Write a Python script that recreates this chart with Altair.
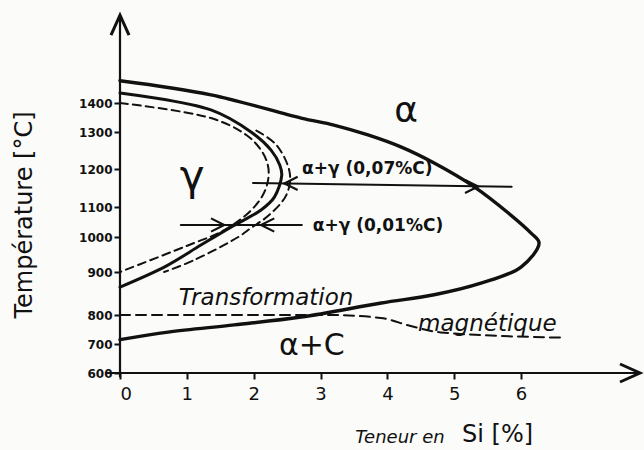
import altair as alt
import pandas as pd

# ---- data: Fe-Si phase diagram (low carbon) ----
# alpha / gamma boundary: from 0 % Si, round the nose near 6.3 % Si and back
outer_si = [0.0, 1.36, 2.71, 3.20, 3.71, 4.21, 4.70, 5.30, 5.81, 6.15, 6.27, 6.00, 5.40, 4.70, 3.91, 2.71, 1.71, 0.72, 0.0]
outer_t = [1471, 1426, 1348, 1324, 1292, 1259, 1216, 1153, 1080, 1013, 983, 914, 874, 847, 828, 793, 766, 741, 715]

# gamma loop (solid)
loop_si = [0.0, 1.36, 1.96, 2.26, 2.39, 2.42, 2.31, 2.11, 1.66, 1.21, 0.69, 0.0]
loop_t = [1432, 1376, 1300, 1251, 1211, 1184, 1126, 1090, 1033, 977, 917, 865]

# gamma loop, inner dashed boundary
inner_si = [0.0, 1.36, 1.89, 2.11, 2.21, 2.22, 2.14, 1.92, 1.51, 1.11, 0.0]
inner_t = [1400, 1348, 1292, 1251, 1212, 1176, 1132, 1080, 1017, 983, 900]

# gamma loop, outer dashed boundary
outer_d_si = [2.04, 2.34, 2.54, 2.49, 2.23, 1.96, 1.77, 1.11, 0.66]
outer_d_t = [1305, 1265, 1189, 1132, 1073, 1030, 1000, 934, 900]

# magnetic transformation (dashed)
mag_si = [0.0, 3.10, 3.90, 4.35, 4.80, 6.6]
mag_t = [800, 800, 790, 762, 740, 722]

# horizontal reading lines: alpha+gamma at 0.07 %C and 0.01 %C
c007_si = [1.99, 5.86]
c007_t = [1163, 1153]
c001_si = [0.91, 2.72]
c001_t = [1040, 1040]

# arrow heads on the reading lines (tip position, direction)
arrow_si = [5.36, 2.46, 1.56, 2.11]
arrow_t = [1154, 1162, 1040, 1040]
arrow_dir = ["right", "left", "right", "left"]

# axis ticks
x_ticks = [0, 1, 2, 3, 4, 5, 6]
y_ticks = [600, 700, 800, 900, 1000, 1100, 1200, 1300, 1400]

# hand-drawn temperature axis: tick spacing is uneven, so the scale is piecewise
y_domain = [600, 700, 800, 900, 1000, 1100, 1200, 1300, 1400, 1690]
y_range = [361, 332, 303, 260, 225, 195, 157, 120, 91, 0]

# region labels
lab_text = ["α", "γ", "α+C", "α+γ (0,07%C)", "α+γ (0,01%C)"]
lab_si = [4.28, 1.08, 2.87, 3.70, 3.86]
lab_t = [1372, 1178, 693, 1200, 1037]
lab_size = [36, 42, 30, 17, 17]
lab_weight = ["normal", "normal", "normal", "bold", "bold"]

INK = "#111111"
FONT = "DejaVu Sans"

xs = alt.Scale(domain=[0, 7.78], nice=False, zero=False)
ys = alt.Scale(domain=y_domain, range=y_range, nice=False, zero=False)


def curve(si, t):
    return pd.DataFrame({"si": si, "t": t, "i": range(len(si))})


def line_layer(si, t, width, dash=None, interp="catmull-rom"):
    kw = dict(color=INK, strokeWidth=width, interpolate=interp, strokeCap="round")
    if dash:
        kw["strokeDash"] = dash
    return alt.Chart(curve(si, t)).mark_line(**kw).encode(
        x=alt.X("si:Q", scale=xs),
        y=alt.Y("t:Q", scale=ys),
        order="i:Q",
    )


base_axes = alt.Chart(pd.DataFrame({"si": x_ticks, "t": [600] * len(x_ticks)})).mark_point(opacity=0).encode(
    x=alt.X("si:Q", scale=xs,
            axis=alt.Axis(values=x_ticks, format="d", title=None, grid=False, domain=False,
                          tickSize=6, tickWidth=2, tickColor=INK,
                          labelFontSize=18, labelFont=FONT, labelColor=INK, labelPadding=6)),
    y=alt.Y("t:Q", scale=ys,
            axis=alt.Axis(values=y_ticks, format="d", title=None, grid=False, domain=False,
                          tickSize=6, tickWidth=2, tickColor=INK,
                          labelFontSize=12, labelFont=FONT, labelFontWeight="bold",
                          labelColor=INK, labelPadding=2)),
)

# axis lines drawn as rules so they can overrun like arrows
x_axis_line = alt.Chart(pd.DataFrame({"a": [-0.2], "b": [7.78], "t": [600]})).mark_rule(
    color=INK, strokeWidth=2.2).encode(x=alt.X("a:Q", scale=xs), x2="b:Q", y=alt.Y("t:Q", scale=ys))
y_axis_line = alt.Chart(pd.DataFrame({"si": [0], "a": [585], "b": [1680]})).mark_rule(
    color=INK, strokeWidth=2.2).encode(x=alt.X("si:Q", scale=xs), y=alt.Y("a:Q", scale=ys), y2="b:Q")

x_arrow = alt.Chart(pd.DataFrame({"si": [7.78], "t": [600]})).mark_point(
    shape="M-1,-0.45L0,0L-1,0.45", size=1600, filled=False, stroke=INK, strokeWidth=3, opacity=1
).encode(x=alt.X("si:Q", scale=xs), y=alt.Y("t:Q", scale=ys))
y_arrow = alt.Chart(pd.DataFrame({"si": [0], "t": [1680]})).mark_point(
    shape="M-0.45,1L0,0L0.45,1", size=1600, filled=False, stroke=INK, strokeWidth=3, opacity=1
).encode(x=alt.X("si:Q", scale=xs), y=alt.Y("t:Q", scale=ys))

outer = line_layer(outer_si, outer_t, 3.4)
loop = line_layer(loop_si, loop_t, 3.0)
inner_d = line_layer(inner_si, inner_t, 2.0, dash=[8, 5])
outer_d = line_layer(outer_d_si, outer_d_t, 2.0, dash=[8, 5])
mag = line_layer(mag_si, mag_t, 2.0, dash=[10, 6], interp="monotone")
c007 = line_layer(c007_si, c007_t, 2.0, interp="linear")
c001 = line_layer(c001_si, c001_t, 2.0, interp="linear")

arrows_df = pd.DataFrame({"si": arrow_si, "t": arrow_t, "dir": arrow_dir})
arrow_r = alt.Chart(arrows_df).transform_filter(alt.datum.dir == "right").mark_point(
    shape="M-1,-0.5L0,0L-1,0.5", size=700, filled=False, stroke=INK, strokeWidth=2.2, opacity=1
).encode(x=alt.X("si:Q", scale=xs), y=alt.Y("t:Q", scale=ys))
arrow_l = alt.Chart(arrows_df).transform_filter(alt.datum.dir == "left").mark_point(
    shape="M1,-0.5L0,0L1,0.5", size=700, filled=False, stroke=INK, strokeWidth=2.2, opacity=1
).encode(x=alt.X("si:Q", scale=xs), y=alt.Y("t:Q", scale=ys))

labels_df = pd.DataFrame({"txt": lab_text, "si": lab_si, "t": lab_t, "fs": lab_size, "fw": lab_weight})
labels_big = alt.Chart(labels_df).transform_filter(alt.datum.fw == "normal").mark_text(
    font=FONT, color=INK
).encode(
    x=alt.X("si:Q", scale=xs), y=alt.Y("t:Q", scale=ys), text="txt:N",
    size=alt.Size("fs:Q", scale=None, legend=None),
)
labels_small = alt.Chart(labels_df).transform_filter(alt.datum.fw == "bold").mark_text(
    font=FONT, color=INK, fontWeight="bold"
).encode(
    x=alt.X("si:Q", scale=xs), y=alt.Y("t:Q", scale=ys), text="txt:N",
    size=alt.Size("fs:Q", scale=None, legend=None),
)

magnet_df = pd.DataFrame({"txt": ["Transformation", "magnétique"], "si": [0.88, 4.46], "t": [840, 768]})
magnet = alt.Chart(magnet_df).mark_text(
    font=FONT, fontSize=23, fontStyle="italic", align="left", color=INK
).encode(x=alt.X("si:Q", scale=xs), y=alt.Y("t:Q", scale=ys), text="txt:N")

y_title = alt.Chart(pd.DataFrame({"txt": ["Température [°C]"]})).mark_text(
    font=FONT, fontSize=24, angle=270, color=INK
).encode(x=alt.value(-95), y=alt.value(203), text="txt:N")
x_title_a = alt.Chart(pd.DataFrame({"txt": ["Teneur en"]})).mark_text(
    font=FONT, fontSize=18, fontStyle="italic", color=INK
).encode(x=alt.value(280), y=alt.value(426), text="txt:N")
x_title_b = alt.Chart(pd.DataFrame({"txt": ["Si [%]"]})).mark_text(
    font=FONT, fontSize=24, align="left", color=INK
).encode(x=alt.value(342), y=alt.value(423), text="txt:N")

chart = alt.layer(
    base_axes, x_axis_line, y_axis_line, x_arrow, y_arrow,
    outer, loop, inner_d, outer_d, mag, c007, c001, arrow_r, arrow_l,
    labels_big, labels_small, magnet, y_title, x_title_a, x_title_b,
).properties(
    width=520, height=361,
    padding={"left": 120, "top": 12, "right": 4, "bottom": 77},
    autosize="none",
    background="#fbfbf9",
).configure_view(strokeWidth=0)

chart.save("out.html", embed_options={"renderer": "svg", "actions": False})
